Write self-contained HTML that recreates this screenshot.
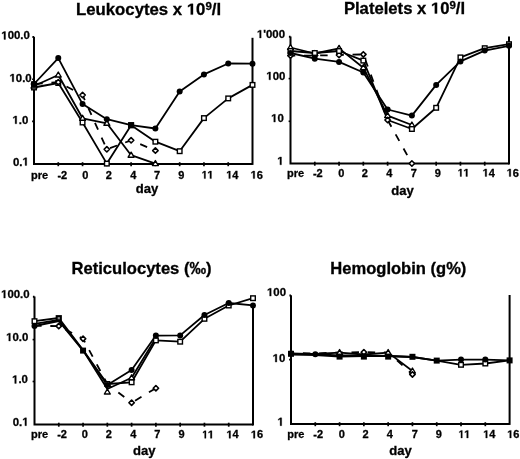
<!DOCTYPE html>
<html><head><meta charset="utf-8"><style>html,body{margin:0;padding:0;background:#fff;width:520px;height:459px;overflow:hidden}svg{display:block}</style></head>
<body>
<svg width="520" height="459" viewBox="0 0 520 459" style="font-family:'Liberation Sans',sans-serif;font-weight:bold">
<style>text{stroke:#000;stroke-width:0.3px;} .o1{fill-opacity:0;stroke-opacity:0}</style>
<rect width="520" height="459" fill="#fff"/>
<defs><filter id="bl" x="0" y="0" width="100%" height="100%" filterUnits="userSpaceOnUse"><feGaussianBlur stdDeviation="0.4"/></filter></defs>
<g filter="url(#bl)">
<path d="M34.00,87.50 L58.28,83.00 L82.56,122.50 L106.83,163.60 L131.11,125.20 L155.39,141.70 L179.67,151.20 L203.94,118.10 L228.22,98.40 L252.50,84.90" fill="none" stroke="#000" stroke-width="1.8" stroke-linejoin="round"/>
<path d="M34.00,86.00 L58.28,75.00 L82.56,118.30 L106.83,123.30 L131.11,155.20 L155.39,163.60" fill="none" stroke="#000" stroke-width="1.8" stroke-linejoin="round"/>
<path d="M34.00,84.00 L58.28,82.20 L82.56,95.00 L106.83,149.30 L131.11,140.30 L155.39,150.60" fill="none" stroke="#000" stroke-width="1.8" stroke-linejoin="round" stroke-dasharray="7.5,8.7" stroke-dashoffset="14.95"/>
<path d="M34.00,84.00 L58.28,58.10 L82.56,104.10 L106.83,119.20 L131.11,125.20 L155.39,128.50 L179.67,91.40 L203.94,74.40 L228.22,63.50 L252.50,63.70" fill="none" stroke="#000" stroke-width="1.8" stroke-linejoin="round"/>
<path d="M32.40,37.00 L34.00,37.00 M34.00,36.70 L34.00,164.00 L252.50,164.00" fill="none" stroke="#000" stroke-width="2.0"/>
<path d="M252.50,37.80 L252.50,164.90" fill="none" stroke="#000" stroke-width="2.0"/>
<path d="M58.28,162.20 L58.28,166.20" stroke="#000" stroke-width="1.7"/>
<path d="M82.56,162.20 L82.56,166.20" stroke="#000" stroke-width="1.7"/>
<path d="M106.83,162.20 L106.83,166.20" stroke="#000" stroke-width="1.7"/>
<path d="M131.11,162.20 L131.11,166.20" stroke="#000" stroke-width="1.7"/>
<path d="M155.39,162.20 L155.39,166.20" stroke="#000" stroke-width="1.7"/>
<path d="M179.67,162.20 L179.67,166.20" stroke="#000" stroke-width="1.7"/>
<path d="M203.94,162.20 L203.94,166.20" stroke="#000" stroke-width="1.7"/>
<path d="M228.22,162.20 L228.22,166.20" stroke="#000" stroke-width="1.7"/>
<path d="M32.10,79.20 L34.00,79.20" stroke="#000" stroke-width="1.6"/>
<path d="M32.10,121.40 L34.00,121.40" stroke="#000" stroke-width="1.6"/>
<rect x="31.70" y="85.20" width="4.60" height="4.60" fill="#fff" stroke="#000" stroke-width="1.4"/>
<rect x="55.98" y="80.70" width="4.60" height="4.60" fill="#fff" stroke="#000" stroke-width="1.4"/>
<rect x="80.26" y="120.20" width="4.60" height="4.60" fill="#fff" stroke="#000" stroke-width="1.4"/>
<rect x="104.53" y="161.30" width="4.60" height="4.60" fill="#fff" stroke="#000" stroke-width="1.4"/>
<rect x="128.81" y="122.90" width="4.60" height="4.60" fill="#fff" stroke="#000" stroke-width="1.4"/>
<rect x="153.09" y="139.40" width="4.60" height="4.60" fill="#fff" stroke="#000" stroke-width="1.4"/>
<rect x="177.37" y="148.90" width="4.60" height="4.60" fill="#fff" stroke="#000" stroke-width="1.4"/>
<rect x="201.64" y="115.80" width="4.60" height="4.60" fill="#fff" stroke="#000" stroke-width="1.4"/>
<rect x="225.92" y="96.10" width="4.60" height="4.60" fill="#fff" stroke="#000" stroke-width="1.4"/>
<rect x="250.20" y="82.60" width="4.60" height="4.60" fill="#fff" stroke="#000" stroke-width="1.4"/>
<polygon points="34.00,83.00 36.95,88.00 31.05,88.00" fill="#fff" stroke="#000" stroke-width="1.4" stroke-linejoin="round"/>
<polygon points="58.28,72.00 61.23,77.00 55.33,77.00" fill="#fff" stroke="#000" stroke-width="1.4" stroke-linejoin="round"/>
<polygon points="82.56,115.30 85.51,120.30 79.61,120.30" fill="#fff" stroke="#000" stroke-width="1.4" stroke-linejoin="round"/>
<polygon points="106.83,120.30 109.78,125.30 103.88,125.30" fill="#fff" stroke="#000" stroke-width="1.4" stroke-linejoin="round"/>
<polygon points="131.11,152.20 134.06,157.20 128.16,157.20" fill="#fff" stroke="#000" stroke-width="1.4" stroke-linejoin="round"/>
<polygon points="155.39,160.60 158.34,165.60 152.44,165.60" fill="#fff" stroke="#000" stroke-width="1.4" stroke-linejoin="round"/>
<polygon points="34.00,81.30 36.70,84.00 34.00,86.70 31.30,84.00" fill="#fff" stroke="#000" stroke-width="1.6" stroke-linejoin="round"/>
<polygon points="58.28,79.50 60.98,82.20 58.28,84.90 55.58,82.20" fill="#fff" stroke="#000" stroke-width="1.6" stroke-linejoin="round"/>
<polygon points="82.56,92.30 85.26,95.00 82.56,97.70 79.86,95.00" fill="#fff" stroke="#000" stroke-width="1.6" stroke-linejoin="round"/>
<polygon points="106.83,146.60 109.53,149.30 106.83,152.00 104.13,149.30" fill="#fff" stroke="#000" stroke-width="1.6" stroke-linejoin="round"/>
<polygon points="131.11,137.60 133.81,140.30 131.11,143.00 128.41,140.30" fill="#fff" stroke="#000" stroke-width="1.6" stroke-linejoin="round"/>
<polygon points="155.39,147.90 158.09,150.60 155.39,153.30 152.69,150.60" fill="#fff" stroke="#000" stroke-width="1.6" stroke-linejoin="round"/>
<circle cx="34.00" cy="84.00" r="3.0" fill="#000"/>
<circle cx="58.28" cy="58.10" r="3.0" fill="#000"/>
<circle cx="82.56" cy="104.10" r="3.0" fill="#000"/>
<circle cx="106.83" cy="119.20" r="3.0" fill="#000"/>
<circle cx="155.39" cy="128.50" r="3.0" fill="#000"/>
<circle cx="179.67" cy="91.40" r="3.0" fill="#000"/>
<circle cx="203.94" cy="74.40" r="3.0" fill="#000"/>
<circle cx="228.22" cy="63.50" r="3.0" fill="#000"/>
<circle cx="252.50" cy="63.70" r="3.0" fill="#000"/>
<rect x="31.00" y="81.30" width="6.0" height="6.0" fill="#000"/>
<rect x="128.11" y="122.20" width="6.0" height="6.0" fill="#000"/>
<path d="M290.50,47.50 L314.78,53.50 L339.06,48.40 L363.33,67.70 L387.61,115.60 L411.89,125.00" fill="none" stroke="#000" stroke-width="1.8" stroke-linejoin="round"/>
<path d="M290.50,55.60 L314.78,55.60 L339.06,55.00 L363.33,54.40 L387.61,120.00 L411.89,163.50" fill="none" stroke="#000" stroke-width="1.8" stroke-linejoin="round" stroke-dasharray="7.5,8.7" stroke-dashoffset="2.75"/>
<path d="M290.50,51.00 L314.78,53.00 L339.06,51.00 L363.33,60.60 L387.61,120.00 L411.89,129.00 L436.17,107.80 L460.44,57.40 L484.72,48.20 L509.00,44.20" fill="none" stroke="#000" stroke-width="1.8" stroke-linejoin="round"/>
<path d="M290.50,53.00 L314.78,58.70 L339.06,61.90 L363.33,72.50 L387.61,109.50 L411.89,115.60 L436.17,84.90 L460.44,61.40 L484.72,50.60 L509.00,45.80" fill="none" stroke="#000" stroke-width="1.8" stroke-linejoin="round"/>
<path d="M288.90,36.80 L290.50,36.80 M290.50,36.50 L290.50,163.50 L509.00,163.50" fill="none" stroke="#000" stroke-width="2.0"/>
<path d="M509.00,36.40 L509.00,164.40" fill="none" stroke="#000" stroke-width="2.0"/>
<path d="M314.78,161.70 L314.78,165.70" stroke="#000" stroke-width="1.7"/>
<path d="M339.06,161.70 L339.06,165.70" stroke="#000" stroke-width="1.7"/>
<path d="M363.33,161.70 L363.33,165.70" stroke="#000" stroke-width="1.7"/>
<path d="M387.61,161.70 L387.61,165.70" stroke="#000" stroke-width="1.7"/>
<path d="M411.89,161.70 L411.89,165.70" stroke="#000" stroke-width="1.7"/>
<path d="M436.17,161.70 L436.17,165.70" stroke="#000" stroke-width="1.7"/>
<path d="M460.44,161.70 L460.44,165.70" stroke="#000" stroke-width="1.7"/>
<path d="M484.72,161.70 L484.72,165.70" stroke="#000" stroke-width="1.7"/>
<path d="M288.60,78.60 L290.50,78.60" stroke="#000" stroke-width="1.6"/>
<path d="M288.60,121.30 L290.50,121.30" stroke="#000" stroke-width="1.6"/>
<polygon points="290.50,44.50 293.45,49.50 287.55,49.50" fill="#fff" stroke="#000" stroke-width="1.4" stroke-linejoin="round"/>
<polygon points="314.78,50.50 317.73,55.50 311.83,55.50" fill="#fff" stroke="#000" stroke-width="1.4" stroke-linejoin="round"/>
<polygon points="339.06,45.40 342.01,50.40 336.11,50.40" fill="#fff" stroke="#000" stroke-width="1.4" stroke-linejoin="round"/>
<polygon points="363.33,64.70 366.28,69.70 360.38,69.70" fill="#fff" stroke="#000" stroke-width="1.4" stroke-linejoin="round"/>
<polygon points="387.61,112.60 390.56,117.60 384.66,117.60" fill="#fff" stroke="#000" stroke-width="1.4" stroke-linejoin="round"/>
<polygon points="411.89,122.00 414.84,127.00 408.94,127.00" fill="#fff" stroke="#000" stroke-width="1.4" stroke-linejoin="round"/>
<polygon points="290.50,52.90 293.20,55.60 290.50,58.30 287.80,55.60" fill="#fff" stroke="#000" stroke-width="1.6" stroke-linejoin="round"/>
<polygon points="314.78,52.90 317.48,55.60 314.78,58.30 312.08,55.60" fill="#fff" stroke="#000" stroke-width="1.6" stroke-linejoin="round"/>
<polygon points="339.06,52.30 341.76,55.00 339.06,57.70 336.36,55.00" fill="#fff" stroke="#000" stroke-width="1.6" stroke-linejoin="round"/>
<polygon points="363.33,51.70 366.03,54.40 363.33,57.10 360.63,54.40" fill="#fff" stroke="#000" stroke-width="1.6" stroke-linejoin="round"/>
<polygon points="387.61,117.30 390.31,120.00 387.61,122.70 384.91,120.00" fill="#fff" stroke="#000" stroke-width="1.6" stroke-linejoin="round"/>
<polygon points="411.89,160.80 414.59,163.50 411.89,166.20 409.19,163.50" fill="#fff" stroke="#000" stroke-width="1.6" stroke-linejoin="round"/>
<rect x="288.20" y="48.70" width="4.60" height="4.60" fill="#fff" stroke="#000" stroke-width="1.4"/>
<rect x="312.48" y="50.70" width="4.60" height="4.60" fill="#fff" stroke="#000" stroke-width="1.4"/>
<rect x="336.76" y="48.70" width="4.60" height="4.60" fill="#fff" stroke="#000" stroke-width="1.4"/>
<rect x="361.03" y="58.30" width="4.60" height="4.60" fill="#fff" stroke="#000" stroke-width="1.4"/>
<rect x="409.59" y="126.70" width="4.60" height="4.60" fill="#fff" stroke="#000" stroke-width="1.4"/>
<rect x="433.87" y="105.50" width="4.60" height="4.60" fill="#fff" stroke="#000" stroke-width="1.4"/>
<rect x="458.14" y="55.10" width="4.60" height="4.60" fill="#fff" stroke="#000" stroke-width="1.4"/>
<rect x="482.42" y="45.90" width="4.60" height="4.60" fill="#fff" stroke="#000" stroke-width="1.4"/>
<rect x="506.70" y="41.90" width="4.60" height="4.60" fill="#fff" stroke="#000" stroke-width="1.4"/>
<circle cx="290.50" cy="53.00" r="3.0" fill="#000"/>
<circle cx="314.78" cy="58.70" r="3.0" fill="#000"/>
<circle cx="339.06" cy="61.90" r="3.0" fill="#000"/>
<circle cx="363.33" cy="72.50" r="3.0" fill="#000"/>
<circle cx="387.61" cy="109.50" r="3.0" fill="#000"/>
<circle cx="411.89" cy="115.60" r="3.0" fill="#000"/>
<circle cx="436.17" cy="84.90" r="3.0" fill="#000"/>
<circle cx="460.44" cy="61.40" r="3.0" fill="#000"/>
<circle cx="484.72" cy="50.60" r="3.0" fill="#000"/>
<circle cx="509.00" cy="45.80" r="3.0" fill="#000"/>
<path d="M34.50,325.80 L58.78,326.10" fill="none" stroke="#000" stroke-width="1.8" stroke-linejoin="round" stroke-dasharray="7.5,8.7" stroke-dashoffset="0.3999999999999986"/>
<path d="M58.78,326.10 L83.06,338.70" fill="none" stroke="#000" stroke-width="1.8" stroke-linejoin="round" stroke-dasharray="7.5,8.7" stroke-dashoffset="8.7"/>
<path d="M83.06,338.70 L107.33,384.00" fill="none" stroke="#000" stroke-width="1.8" stroke-linejoin="round" stroke-dasharray="7.5,8.7" stroke-dashoffset="3.299999999999999"/>
<path d="M107.33,384.00 L131.61,402.70" fill="none" stroke="#000" stroke-width="1.8" stroke-linejoin="round" stroke-dasharray="7.5,8.7" stroke-dashoffset="2.299999999999999"/>
<path d="M131.61,402.70 L155.89,388.20" fill="none" stroke="#000" stroke-width="1.8" stroke-linejoin="round" stroke-dasharray="7.5,8.7" stroke-dashoffset="12.2"/>
<path d="M34.50,323.80 L58.78,320.00 L83.06,350.30 L107.33,389.00 L131.61,377.80 L155.89,338.00" fill="none" stroke="#000" stroke-width="1.8" stroke-linejoin="round"/>
<path d="M34.50,321.20 L58.78,318.00 L83.06,350.00 L107.33,384.00 L131.61,382.30 L155.89,340.40 L180.17,341.70 L204.44,318.80 L228.72,305.50 L253.00,298.20" fill="none" stroke="#000" stroke-width="1.8" stroke-linejoin="round"/>
<path d="M34.50,326.00 L58.78,321.00 L83.06,350.60 L107.33,385.00 L131.61,370.00 L155.89,335.60 L180.17,335.40 L204.44,315.00 L228.72,303.00 L253.00,305.40" fill="none" stroke="#000" stroke-width="1.8" stroke-linejoin="round"/>
<path d="M32.90,296.80 L34.50,296.80 M34.50,296.50 L34.50,424.50 L253.00,424.50" fill="none" stroke="#000" stroke-width="2.0"/>
<path d="M253.00,305.00 L253.00,425.40" fill="none" stroke="#000" stroke-width="2.0"/>
<path d="M58.78,422.70 L58.78,426.70" stroke="#000" stroke-width="1.7"/>
<path d="M83.06,422.70 L83.06,426.70" stroke="#000" stroke-width="1.7"/>
<path d="M107.33,422.70 L107.33,426.70" stroke="#000" stroke-width="1.7"/>
<path d="M131.61,422.70 L131.61,426.70" stroke="#000" stroke-width="1.7"/>
<path d="M155.89,422.70 L155.89,426.70" stroke="#000" stroke-width="1.7"/>
<path d="M180.17,422.70 L180.17,426.70" stroke="#000" stroke-width="1.7"/>
<path d="M204.44,422.70 L204.44,426.70" stroke="#000" stroke-width="1.7"/>
<path d="M228.72,422.70 L228.72,426.70" stroke="#000" stroke-width="1.7"/>
<path d="M32.60,339.60 L34.50,339.60" stroke="#000" stroke-width="1.6"/>
<path d="M32.60,381.50 L34.50,381.50" stroke="#000" stroke-width="1.6"/>
<polygon points="58.78,323.40 61.48,326.10 58.78,328.80 56.08,326.10" fill="#fff" stroke="#000" stroke-width="1.6" stroke-linejoin="round"/>
<polygon points="83.06,336.00 85.76,338.70 83.06,341.40 80.36,338.70" fill="#fff" stroke="#000" stroke-width="1.6" stroke-linejoin="round"/>
<polygon points="131.61,400.00 134.31,402.70 131.61,405.40 128.91,402.70" fill="#fff" stroke="#000" stroke-width="1.6" stroke-linejoin="round"/>
<polygon points="155.89,385.50 158.59,388.20 155.89,390.90 153.19,388.20" fill="#fff" stroke="#000" stroke-width="1.6" stroke-linejoin="round"/>
<polygon points="131.61,374.80 134.56,379.80 128.66,379.80" fill="#fff" stroke="#000" stroke-width="1.4" stroke-linejoin="round"/>
<rect x="32.20" y="318.90" width="4.60" height="4.60" fill="#fff" stroke="#000" stroke-width="1.4"/>
<rect x="105.03" y="381.70" width="4.60" height="4.60" fill="#fff" stroke="#000" stroke-width="1.4"/>
<rect x="129.31" y="380.00" width="4.60" height="4.60" fill="#fff" stroke="#000" stroke-width="1.4"/>
<rect x="153.59" y="338.10" width="4.60" height="4.60" fill="#fff" stroke="#000" stroke-width="1.4"/>
<rect x="177.87" y="339.40" width="4.60" height="4.60" fill="#fff" stroke="#000" stroke-width="1.4"/>
<rect x="202.14" y="316.50" width="4.60" height="4.60" fill="#fff" stroke="#000" stroke-width="1.4"/>
<rect x="226.42" y="303.20" width="4.60" height="4.60" fill="#fff" stroke="#000" stroke-width="1.4"/>
<rect x="250.70" y="295.90" width="4.60" height="4.60" fill="#fff" stroke="#000" stroke-width="1.4"/>
<circle cx="34.50" cy="326.00" r="3.0" fill="#000"/>
<circle cx="107.33" cy="385.00" r="3.0" fill="#000"/>
<circle cx="131.61" cy="370.00" r="3.0" fill="#000"/>
<circle cx="155.89" cy="335.60" r="3.0" fill="#000"/>
<circle cx="180.17" cy="335.40" r="3.0" fill="#000"/>
<circle cx="204.44" cy="315.00" r="3.0" fill="#000"/>
<circle cx="228.72" cy="303.00" r="3.0" fill="#000"/>
<circle cx="253.00" cy="305.40" r="3.0" fill="#000"/>
<rect x="80.06" y="347.60" width="6.0" height="6.0" fill="#000"/>
<rect x="56.68" y="316.10" width="4.20" height="4.20" fill="#888" stroke="#000" stroke-width="2.0"/>
<polygon points="107.33,389.00 110.28,394.00 104.38,394.00" fill="#fff" stroke="#000" stroke-width="1.4" stroke-linejoin="round"/>
<path d="M291.00,354.00 L315.29,354.00 L339.58,352.60 L363.87,354.50 L388.16,352.60 L412.44,371.00" fill="none" stroke="#000" stroke-width="1.8" stroke-linejoin="round"/>
<path d="M291.00,353.00 L315.29,353.50 L339.58,352.40 L363.87,352.20 L388.16,352.40 L412.44,374.40" fill="none" stroke="#000" stroke-width="1.8" stroke-linejoin="round" stroke-dasharray="7.5,8.7" stroke-dashoffset="4.3"/>
<path d="M291.00,354.50 L315.29,355.00 L339.58,356.50 L363.87,356.00 L388.16,356.00 L412.44,357.00 L436.73,360.60 L461.02,364.80 L485.31,363.50 L509.60,360.40" fill="none" stroke="#000" stroke-width="1.8" stroke-linejoin="round"/>
<path d="M291.00,353.50 L315.29,354.20 L339.58,355.50 L363.87,355.50 L388.16,356.00 L412.44,357.00 L436.73,360.60 L461.02,359.60 L485.31,359.60 L509.60,360.40" fill="none" stroke="#000" stroke-width="1.8" stroke-linejoin="round"/>
<path d="M289.40,295.60 L291.00,295.60 M291.00,295.30 L291.00,424.00 L509.60,424.00" fill="none" stroke="#000" stroke-width="2.0"/>
<path d="M509.60,295.00 L509.60,424.90" fill="none" stroke="#000" stroke-width="2.0"/>
<path d="M315.29,422.20 L315.29,426.20" stroke="#000" stroke-width="1.7"/>
<path d="M339.58,422.20 L339.58,426.20" stroke="#000" stroke-width="1.7"/>
<path d="M363.87,422.20 L363.87,426.20" stroke="#000" stroke-width="1.7"/>
<path d="M388.16,422.20 L388.16,426.20" stroke="#000" stroke-width="1.7"/>
<path d="M412.44,422.20 L412.44,426.20" stroke="#000" stroke-width="1.7"/>
<path d="M436.73,422.20 L436.73,426.20" stroke="#000" stroke-width="1.7"/>
<path d="M461.02,422.20 L461.02,426.20" stroke="#000" stroke-width="1.7"/>
<path d="M485.31,422.20 L485.31,426.20" stroke="#000" stroke-width="1.7"/>
<path d="M289.10,359.60 L291.00,359.60" stroke="#000" stroke-width="1.6"/>
<polygon points="339.58,349.60 342.53,354.60 336.63,354.60" fill="#fff" stroke="#000" stroke-width="1.4" stroke-linejoin="round"/>
<polygon points="388.16,349.60 391.11,354.60 385.21,354.60" fill="#fff" stroke="#000" stroke-width="1.4" stroke-linejoin="round"/>
<polygon points="412.44,368.00 415.39,373.00 409.49,373.00" fill="#fff" stroke="#000" stroke-width="1.4" stroke-linejoin="round"/>
<polygon points="363.87,349.50 366.57,352.20 363.87,354.90 361.17,352.20" fill="#fff" stroke="#000" stroke-width="1.6" stroke-linejoin="round"/>
<polygon points="412.44,371.70 415.14,374.40 412.44,377.10 409.74,374.40" fill="#fff" stroke="#000" stroke-width="1.6" stroke-linejoin="round"/>
<rect x="458.72" y="362.50" width="4.60" height="4.60" fill="#fff" stroke="#000" stroke-width="1.4"/>
<rect x="483.01" y="361.20" width="4.60" height="4.60" fill="#fff" stroke="#000" stroke-width="1.4"/>
<circle cx="291.00" cy="353.50" r="3.0" fill="#000"/>
<circle cx="315.29" cy="354.20" r="3.0" fill="#000"/>
<circle cx="461.02" cy="359.60" r="3.0" fill="#000"/>
<circle cx="485.31" cy="359.60" r="3.0" fill="#000"/>
<rect x="288.00" y="350.80" width="6.0" height="6.0" fill="#000"/>
<rect x="336.58" y="353.60" width="6.0" height="6.0" fill="#000"/>
<rect x="360.87" y="353.60" width="6.0" height="6.0" fill="#000"/>
<rect x="385.16" y="353.60" width="6.0" height="6.0" fill="#000"/>
<rect x="409.44" y="353.80" width="6.0" height="6.0" fill="#000"/>
<rect x="433.73" y="357.60" width="6.0" height="6.0" fill="#000"/>
<rect x="506.60" y="357.40" width="6.0" height="6.0" fill="#000"/>
<text x="76.00" y="14.60" font-size="15.7" textLength="145.20" lengthAdjust="spacingAndGlyphs">Leukocytes x <tspan class="o1">1</tspan>0<tspan font-size="10.8" dy="-5">9</tspan><tspan dy="5">/l</tspan></text>
<text x="343.90" y="13.50" font-size="15.7" textLength="121.20" lengthAdjust="spacingAndGlyphs">Platelets x <tspan class="o1">1</tspan>0<tspan font-size="10.8" dy="-5">9</tspan><tspan dy="5">/l</tspan></text>
<text x="71.50" y="274.30" font-size="15.7" textLength="140.10" lengthAdjust="spacingAndGlyphs">Reticulocytes (‰)</text>
<text x="330.30" y="274.30" font-size="15.7" textLength="136.10" lengthAdjust="spacingAndGlyphs">Hemoglobin (g%)</text>
<text x="29.80" y="39.40" font-size="11.4" text-anchor="end"><tspan class="o1">1</tspan>00.0</text>
<text x="31.70" y="81.80" font-size="11.4" text-anchor="end"><tspan class="o1">1</tspan>0.0</text>
<text x="28.30" y="123.80" font-size="11.4" text-anchor="end"><tspan class="o1">1</tspan>.0</text>
<text x="28.80" y="165.50" font-size="11.4" text-anchor="end">0.<tspan class="o1">1</tspan></text>
<text x="285.00" y="38.00" font-size="11.4" text-anchor="end"><tspan class="o1">1</tspan>'000</text>
<text x="285.30" y="79.80" font-size="11.4" text-anchor="end"><tspan class="o1">1</tspan>00</text>
<text x="283.80" y="122.10" font-size="11.4" text-anchor="end"><tspan class="o1">1</tspan>0</text>
<text x="283.60" y="164.80" font-size="11.4" text-anchor="end"><tspan class="o1">1</tspan></text>
<text x="29.60" y="298.10" font-size="11.4" text-anchor="end"><tspan class="o1">1</tspan>00.0</text>
<text x="28.30" y="341.00" font-size="11.4" text-anchor="end"><tspan class="o1">1</tspan>0.0</text>
<text x="27.90" y="383.40" font-size="11.4" text-anchor="end"><tspan class="o1">1</tspan>.0</text>
<text x="28.60" y="425.70" font-size="11.4" text-anchor="end">0.<tspan class="o1">1</tspan></text>
<text x="286.00" y="296.10" font-size="11.4" text-anchor="end"><tspan class="o1">1</tspan>00</text>
<text x="285.30" y="362.10" font-size="11.4" text-anchor="end"><tspan class="o1">1</tspan>0</text>
<text x="283.80" y="425.70" font-size="11.4" text-anchor="end"><tspan class="o1">1</tspan></text>
<text x="39.55" y="178.60" font-size="11" text-anchor="middle">pre</text>
<text x="62.30" y="178.60" font-size="11" text-anchor="middle">-2</text>
<text x="85.40" y="178.60" font-size="11" text-anchor="middle">0</text>
<text x="108.80" y="178.60" font-size="11" text-anchor="middle">2</text>
<text x="133.25" y="178.60" font-size="11" text-anchor="middle">4</text>
<text x="156.95" y="178.60" font-size="11" text-anchor="middle">7</text>
<text x="181.35" y="178.60" font-size="11" text-anchor="middle">9</text>
<text x="207.65" y="178.60" font-size="11" text-anchor="middle"><tspan class="o1">1</tspan><tspan class="o1">1</tspan></text>
<text x="232.35" y="178.60" font-size="11" text-anchor="middle"><tspan class="o1">1</tspan>4</text>
<text x="256.75" y="178.60" font-size="11" text-anchor="middle"><tspan class="o1">1</tspan>6</text>
<text x="295.55" y="176.50" font-size="11" text-anchor="middle">pre</text>
<text x="317.85" y="176.50" font-size="11" text-anchor="middle">-2</text>
<text x="341.20" y="176.50" font-size="11" text-anchor="middle">0</text>
<text x="364.85" y="176.50" font-size="11" text-anchor="middle">2</text>
<text x="389.35" y="176.50" font-size="11" text-anchor="middle">4</text>
<text x="413.90" y="176.50" font-size="11" text-anchor="middle">7</text>
<text x="437.90" y="176.50" font-size="11" text-anchor="middle">9</text>
<text x="463.65" y="176.50" font-size="11" text-anchor="middle"><tspan class="o1">1</tspan><tspan class="o1">1</tspan></text>
<text x="488.70" y="176.50" font-size="11" text-anchor="middle"><tspan class="o1">1</tspan>4</text>
<text x="512.80" y="176.50" font-size="11" text-anchor="middle"><tspan class="o1">1</tspan>6</text>
<text x="39.55" y="438.30" font-size="11" text-anchor="middle">pre</text>
<text x="62.10" y="438.30" font-size="11" text-anchor="middle">-2</text>
<text x="84.90" y="438.30" font-size="11" text-anchor="middle">0</text>
<text x="108.80" y="438.30" font-size="11" text-anchor="middle">2</text>
<text x="133.25" y="438.30" font-size="11" text-anchor="middle">4</text>
<text x="157.30" y="438.30" font-size="11" text-anchor="middle">7</text>
<text x="181.55" y="438.30" font-size="11" text-anchor="middle">9</text>
<text x="208.15" y="438.30" font-size="11" text-anchor="middle"><tspan class="o1">1</tspan><tspan class="o1">1</tspan></text>
<text x="232.60" y="438.30" font-size="11" text-anchor="middle"><tspan class="o1">1</tspan>4</text>
<text x="257.00" y="438.30" font-size="11" text-anchor="middle"><tspan class="o1">1</tspan>6</text>
<text x="295.85" y="438.00" font-size="11" text-anchor="middle">pre</text>
<text x="318.25" y="438.00" font-size="11" text-anchor="middle">-2</text>
<text x="341.80" y="438.00" font-size="11" text-anchor="middle">0</text>
<text x="365.50" y="438.00" font-size="11" text-anchor="middle">2</text>
<text x="389.80" y="438.00" font-size="11" text-anchor="middle">4</text>
<text x="414.80" y="438.00" font-size="11" text-anchor="middle">7</text>
<text x="438.85" y="438.00" font-size="11" text-anchor="middle">9</text>
<text x="464.45" y="438.00" font-size="11" text-anchor="middle"><tspan class="o1">1</tspan><tspan class="o1">1</tspan></text>
<text x="489.30" y="438.00" font-size="11" text-anchor="middle"><tspan class="o1">1</tspan>4</text>
<text x="513.30" y="438.00" font-size="11" text-anchor="middle"><tspan class="o1">1</tspan>6</text>
<text x="147.10" y="193.30" font-size="12.7" text-anchor="middle" transform="translate(147.10,0) scale(1.03,1) translate(-147.10,0)">day</text>
<text x="402.45" y="194.60" font-size="12.7" text-anchor="middle" transform="translate(402.45,0) scale(1.03,1) translate(-402.45,0)">day</text>
<text x="144.25" y="455.30" font-size="12.7" text-anchor="middle" transform="translate(144.25,0) scale(1.03,1) translate(-144.25,0)">day</text>
<text x="400.50" y="454.80" font-size="12.7" text-anchor="middle" transform="translate(400.50,0) scale(1.03,1) translate(-400.50,0)">day</text>
<g id="ones" fill="#000"><path d="M478 0V1170L140 959V1180L493 1409H759V0Z" transform="translate(186.811,14.600) scale(0.00819,-0.00767)" class="one" stroke="#000" stroke-width="0.3" vector-effect="non-scaling-stroke"/><path d="M478 0V1170L140 959V1180L493 1409H759V0Z" transform="translate(430.915,13.500) scale(0.00814,-0.00767)" class="one" stroke="#000" stroke-width="0.3" vector-effect="non-scaling-stroke"/><path d="M478 0V1170L140 959V1180L493 1409H759V0Z" transform="translate(1.284,39.400) scale(0.00557,-0.00557)" class="one" stroke="#000" stroke-width="0.3" vector-effect="non-scaling-stroke"/><path d="M478 0V1170L140 959V1180L493 1409H759V0Z" transform="translate(9.513,81.800) scale(0.00557,-0.00557)" class="one" stroke="#000" stroke-width="0.3" vector-effect="non-scaling-stroke"/><path d="M478 0V1170L140 959V1180L493 1409H759V0Z" transform="translate(12.456,123.800) scale(0.00557,-0.00557)" class="one" stroke="#000" stroke-width="0.3" vector-effect="non-scaling-stroke"/><path d="M478 0V1170L140 959V1180L493 1409H759V0Z" transform="translate(22.456,165.500) scale(0.00557,-0.00557)" class="one" stroke="#000" stroke-width="0.3" vector-effect="non-scaling-stroke"/><path d="M478 0V1170L140 959V1180L493 1409H759V0Z" transform="translate(256.938,38.000) scale(0.00557,-0.00557)" class="one" stroke="#000" stroke-width="0.3" vector-effect="non-scaling-stroke"/><path d="M478 0V1170L140 959V1180L493 1409H759V0Z" transform="translate(266.284,79.800) scale(0.00557,-0.00557)" class="one" stroke="#000" stroke-width="0.3" vector-effect="non-scaling-stroke"/><path d="M478 0V1170L140 959V1180L493 1409H759V0Z" transform="translate(271.112,122.100) scale(0.00557,-0.00557)" class="one" stroke="#000" stroke-width="0.3" vector-effect="non-scaling-stroke"/><path d="M478 0V1170L140 959V1180L493 1409H759V0Z" transform="translate(277.256,164.800) scale(0.00557,-0.00557)" class="one" stroke="#000" stroke-width="0.3" vector-effect="non-scaling-stroke"/><path d="M478 0V1170L140 959V1180L493 1409H759V0Z" transform="translate(1.084,298.100) scale(0.00557,-0.00557)" class="one" stroke="#000" stroke-width="0.3" vector-effect="non-scaling-stroke"/><path d="M478 0V1170L140 959V1180L493 1409H759V0Z" transform="translate(6.112,341.000) scale(0.00557,-0.00557)" class="one" stroke="#000" stroke-width="0.3" vector-effect="non-scaling-stroke"/><path d="M478 0V1170L140 959V1180L493 1409H759V0Z" transform="translate(12.056,383.400) scale(0.00557,-0.00557)" class="one" stroke="#000" stroke-width="0.3" vector-effect="non-scaling-stroke"/><path d="M478 0V1170L140 959V1180L493 1409H759V0Z" transform="translate(22.256,425.700) scale(0.00557,-0.00557)" class="one" stroke="#000" stroke-width="0.3" vector-effect="non-scaling-stroke"/><path d="M478 0V1170L140 959V1180L493 1409H759V0Z" transform="translate(266.984,296.100) scale(0.00557,-0.00557)" class="one" stroke="#000" stroke-width="0.3" vector-effect="non-scaling-stroke"/><path d="M478 0V1170L140 959V1180L493 1409H759V0Z" transform="translate(272.612,362.100) scale(0.00557,-0.00557)" class="one" stroke="#000" stroke-width="0.3" vector-effect="non-scaling-stroke"/><path d="M478 0V1170L140 959V1180L493 1409H759V0Z" transform="translate(277.456,425.700) scale(0.00557,-0.00557)" class="one" stroke="#000" stroke-width="0.3" vector-effect="non-scaling-stroke"/><path d="M478 0V1170L140 959V1180L493 1409H759V0Z" transform="translate(201.830,178.600) scale(0.00484,-0.00537)" class="one" stroke="#000" stroke-width="0.3" vector-effect="non-scaling-stroke"/><path d="M478 0V1170L140 959V1180L493 1409H759V0Z" transform="translate(207.345,178.600) scale(0.00538,-0.00537)" class="one" stroke="#000" stroke-width="0.3" vector-effect="non-scaling-stroke"/><path d="M478 0V1170L140 959V1180L493 1409H759V0Z" transform="translate(226.225,178.600) scale(0.00538,-0.00537)" class="one" stroke="#000" stroke-width="0.3" vector-effect="non-scaling-stroke"/><path d="M478 0V1170L140 959V1180L493 1409H759V0Z" transform="translate(250.625,178.600) scale(0.00538,-0.00537)" class="one" stroke="#000" stroke-width="0.3" vector-effect="non-scaling-stroke"/><path d="M478 0V1170L140 959V1180L493 1409H759V0Z" transform="translate(457.830,176.500) scale(0.00484,-0.00537)" class="one" stroke="#000" stroke-width="0.3" vector-effect="non-scaling-stroke"/><path d="M478 0V1170L140 959V1180L493 1409H759V0Z" transform="translate(463.345,176.500) scale(0.00538,-0.00537)" class="one" stroke="#000" stroke-width="0.3" vector-effect="non-scaling-stroke"/><path d="M478 0V1170L140 959V1180L493 1409H759V0Z" transform="translate(482.575,176.500) scale(0.00538,-0.00537)" class="one" stroke="#000" stroke-width="0.3" vector-effect="non-scaling-stroke"/><path d="M478 0V1170L140 959V1180L493 1409H759V0Z" transform="translate(506.675,176.500) scale(0.00538,-0.00537)" class="one" stroke="#000" stroke-width="0.3" vector-effect="non-scaling-stroke"/><path d="M478 0V1170L140 959V1180L493 1409H759V0Z" transform="translate(202.330,438.300) scale(0.00484,-0.00537)" class="one" stroke="#000" stroke-width="0.3" vector-effect="non-scaling-stroke"/><path d="M478 0V1170L140 959V1180L493 1409H759V0Z" transform="translate(207.845,438.300) scale(0.00538,-0.00537)" class="one" stroke="#000" stroke-width="0.3" vector-effect="non-scaling-stroke"/><path d="M478 0V1170L140 959V1180L493 1409H759V0Z" transform="translate(226.475,438.300) scale(0.00538,-0.00537)" class="one" stroke="#000" stroke-width="0.3" vector-effect="non-scaling-stroke"/><path d="M478 0V1170L140 959V1180L493 1409H759V0Z" transform="translate(250.875,438.300) scale(0.00538,-0.00537)" class="one" stroke="#000" stroke-width="0.3" vector-effect="non-scaling-stroke"/><path d="M478 0V1170L140 959V1180L493 1409H759V0Z" transform="translate(458.630,438.000) scale(0.00484,-0.00537)" class="one" stroke="#000" stroke-width="0.3" vector-effect="non-scaling-stroke"/><path d="M478 0V1170L140 959V1180L493 1409H759V0Z" transform="translate(464.145,438.000) scale(0.00538,-0.00537)" class="one" stroke="#000" stroke-width="0.3" vector-effect="non-scaling-stroke"/><path d="M478 0V1170L140 959V1180L493 1409H759V0Z" transform="translate(483.175,438.000) scale(0.00538,-0.00537)" class="one" stroke="#000" stroke-width="0.3" vector-effect="non-scaling-stroke"/><path d="M478 0V1170L140 959V1180L493 1409H759V0Z" transform="translate(507.175,438.000) scale(0.00538,-0.00537)" class="one" stroke="#000" stroke-width="0.3" vector-effect="non-scaling-stroke"/></g>
</g>
</svg>
</body></html>
